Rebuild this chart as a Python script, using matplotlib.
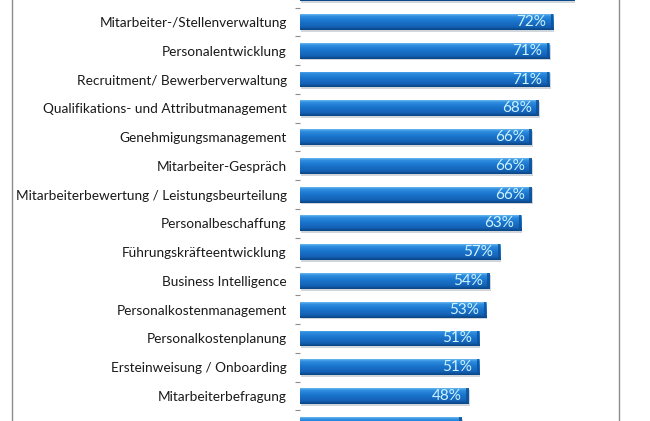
import matplotlib
matplotlib.use("Agg")
import matplotlib.pyplot as plt
import numpy as np
from matplotlib.colors import LinearSegmentedColormap

categories = [
    "Digitale Personalakte",
    "Mitarbeiter-/Stellenverwaltung",
    "Personalentwicklung",
    "Recruitment/ Bewerberverwaltung",
    "Qualifikations- und Attributmanagement",
    "Genehmigungsmanagement",
    "Mitarbeiter-Gespräch",
    "Mitarbeiterbewertung / Leistungsbeurteilung",
    "Personalbeschaffung",
    "Führungskräfteentwicklung",
    "Business Intelligence",
    "Personalkostenmanagement",
    "Personalkostenplanung",
    "Ersteinweisung / Onboarding",
    "Mitarbeiterbefragung",
    "Wissensmanagement",
]
values = [78, 72, 71, 71, 68, 66, 66, 66, 63, 57, 54, 53, 51, 51, 48, 46]
value_labels = [f"{v}%" for v in values]

plt.rcParams['font.family'] = ['Lato', 'DejaVu Sans']

W, H = 650, 421
fig = plt.figure(figsize=(W / 100, H / 100), dpi=100)
fig.patch.set_facecolor("white")

# chart-area border (left/right edges visible)
for xpix in (12, 619):
    fig.add_artist(plt.Line2D([xpix / W, xpix / W], [0, 1], color="#8c8c8c", lw=1.0,
                              transform=fig.transFigure))

left_px, right_px = 300, 619
ax = fig.add_axes([left_px / W, 0, (right_px - left_px) / W, 1])
px_per_pct = 3.514
ax.set_facecolor("none")

y = np.arange(len(categories))
bars = ax.barh(y, values, height=0.55, color="#1874cd", zorder=2)

cmap = LinearSegmentedColormap.from_list(
    "bar3d",
    [(0.0, "#6fbdf2"), (0.12, "#2f8ee0"), (0.45, "#1a74cc"),
     (0.8, "#1462b6"), (1.0, "#0a4480")])
grad = np.linspace(0, 1, 64).reshape(-1, 1)

for b in bars:
    x0, yb, w, h = b.get_x(), b.get_y(), b.get_width(), b.get_height()
    # shadow
    ax.add_patch(plt.Rectangle((x0 + 0.3, yb + 0.06), w, h, color="#9aa6b2",
                               alpha=0.45, zorder=1, lw=0))
    im = ax.imshow(grad, cmap=cmap, aspect="auto",
                   extent=(x0, x0 + w, yb + h, yb), zorder=3,
                   interpolation="bicubic")
    im.set_clip_path(b)
    # dark end cap
    ax.add_patch(plt.Rectangle((x0 + w - 0.7, yb), 0.7, h, color="#0d4f96",
                               alpha=0.8, zorder=4, lw=0))
    b.set_alpha(0)

for yi, v, lab in zip(y, values, value_labels):
    ax.annotate(lab, (v, yi), xytext=(-7, 0), textcoords="offset pixels",
                ha="right", va="center", color="#cdf3ff", fontsize=11,
                zorder=5)

ax.set_yticks(y)
ax.set_yticklabels(categories, fontsize=9.8, color="#1a1a1a")
ax.tick_params(axis="y", which="major", length=0, pad=9.5)
ax.set_yticks(y[:-1] + 0.5, minor=True)
ax.tick_params(axis="y", which="minor", length=3.8, width=0.8, color="#8c8c8c",
               direction="out")
ax.set_xticks([])
for s in ax.spines.values():
    s.set_visible(False)

ax.set_xlim(0, (right_px - left_px) / px_per_pct)
ax.set_ylim(14.868, 0.235)

fig.savefig("out.png", dpi=100, facecolor="white")
